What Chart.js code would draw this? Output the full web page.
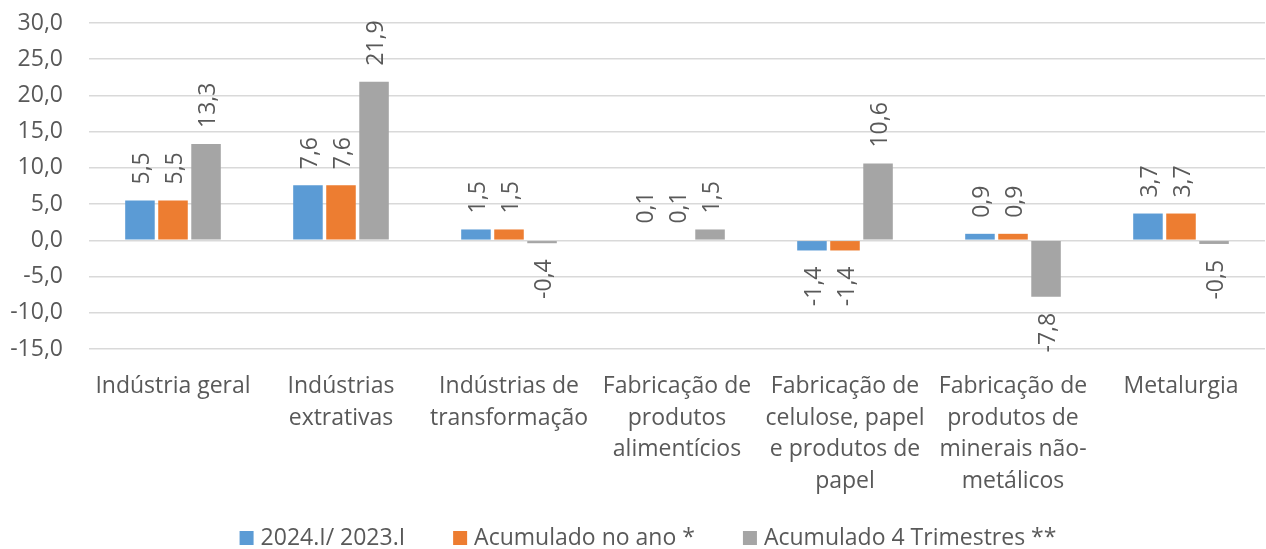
<!DOCTYPE html>
<html>
<head>
<meta charset="utf-8">
<script src="https://cdn.jsdelivr.net/npm/chart.js@4"></script>
<style>
  body { margin: 0; background: #fff; }
</style>
</head>
<body>
<canvas id="barchart" width="1266" height="549"></canvas>
<script>
var categories = [
  ['Indústria geral'],
  ['Indústrias', 'extrativas'],
  ['Indústrias de', 'transformação'],
  ['Fabricação de', 'produtos', 'alimentícios'],
  ['Fabricação de', 'celulose, papel', 'e produtos de', 'papel'],
  ['Fabricação de', 'produtos de', 'minerais não-', 'metálicos'],
  ['Metalurgia']
]
var seriesNames = ['2024.I/ 2023.I', 'Acumulado no ano *', 'Acumulado 4 Trimestres **']
var trimestre = [5.5, 7.6, 1.5, 0.1, -1.4, 0.9, 3.7]
var acumuladoAno = [5.5, 7.6, 1.5, 0.1, -1.4, 0.9, 3.7]
var acumulado4T = [13.3, 21.9, -0.4, 1.5, 10.6, -7.8, -0.5]
var yTicks = [-15, -10, -5, 0, 5, 10, 15, 20, 25, 30]

var colors = ['#5B9BD5', '#ED7D31', '#A5A5A5']
var textColor = '#595959'
var fontFamily = '"Open Sans", sans-serif'
var fontSize = 23

function fmt(v) {
  return v.toFixed(1).replace('.', ',')
}

// rotated value labels, above positive bars and below negative ones
var barLabels = {
  id: 'barLabels',
  afterDatasetsDraw(chart) {
    var ctx = chart.ctx
    ctx.save()
    ctx.fillStyle = textColor
    ctx.font = fontSize + 'px ' + fontFamily
    ctx.textBaseline = 'alphabetic'
    chart.data.datasets.forEach((ds, i) => {
      chart.getDatasetMeta(i).data.forEach((bar, j) => {
        var v = ds.data[j]
        ctx.save()
        ctx.translate(bar.x, bar.y + (v < 0 ? 16 : -16))
        ctx.rotate(-Math.PI / 2)
        ctx.textAlign = v < 0 ? 'right' : 'left'
        ctx.fillText(fmt(v), 0, 9)
        ctx.restore()
      })
    })
    ctx.restore()
  }
}

// legend drawn at the bottom, Excel style
var bottomLegend = {
  id: 'bottomLegend',
  afterDraw(chart) {
    var ctx = chart.ctx
    ctx.save()
    ctx.font = fontSize + 'px ' + fontFamily
    ctx.textBaseline = 'alphabetic'
    ctx.textAlign = 'left'
    var box = 14, gap = 7, itemGap = 48
    var widths = chart.data.datasets.map(ds => box + gap + ctx.measureText(ds.label).width)
    var total = widths.reduce((a, b) => a + b, 0) + itemGap * (widths.length - 1)
    var x = 648 - total / 2
    var base = 545
    chart.data.datasets.forEach((ds, i) => {
      ctx.fillStyle = ds.backgroundColor
      ctx.fillRect(x, base - box, box, box)
      ctx.fillStyle = textColor
      ctx.fillText(ds.label, x + box + gap, base)
      x += widths[i] + itemGap
    })
    ctx.restore()
  }
}

var chart = new Chart(document.getElementById('barchart'), {
  type: 'bar',
  data: {
    labels: categories,
    datasets: [
      { label: seriesNames[0], data: trimestre, backgroundColor: colors[0] },
      { label: seriesNames[1], data: acumuladoAno, backgroundColor: colors[1] },
      { label: seriesNames[2], data: acumulado4T, backgroundColor: colors[2] }
    ]
  },
  options: {
    responsive: false,
    animation: false,
    layout: { padding: { left: 10, right: 1, top: 23, bottom: 54 } },
    datasets: {
      bar: { categoryPercentage: 0.59, barPercentage: 0.894 }
    },
    scales: {
      x: {
        grid: { display: false, drawTicks: false },
        border: { display: false },
        afterFit: function (axis) {
          axis.height = 146
        },
        ticks: {
          color: textColor,
          font: { family: fontFamily, size: fontSize, lineHeight: 1.39 },
          maxRotation: 0,
          autoSkip: false,
          padding: 21
        }
      },
      y: {
        min: -15,
        max: 30,
        afterBuildTicks: function (axis) {
          axis.ticks = yTicks.map(v => ({ value: v }))
        },
        afterFit: function (axis) {
          axis.width = 79
          axis.paddingTop = 14
          axis.paddingBottom = 14
        },
        grid: { color: '#D9D9D9', lineWidth: 1.5, drawTicks: false },
        border: { display: false },
        ticks: {
          color: textColor,
          font: { family: fontFamily, size: fontSize },
          padding: 26,
          callback: v => fmt(v)
        }
      }
    },
    plugins: {
      legend: { display: false },
      tooltip: { enabled: false }
    }
  },
  plugins: [barLabels, bottomLegend]
})
</script>
</body>
</html>
